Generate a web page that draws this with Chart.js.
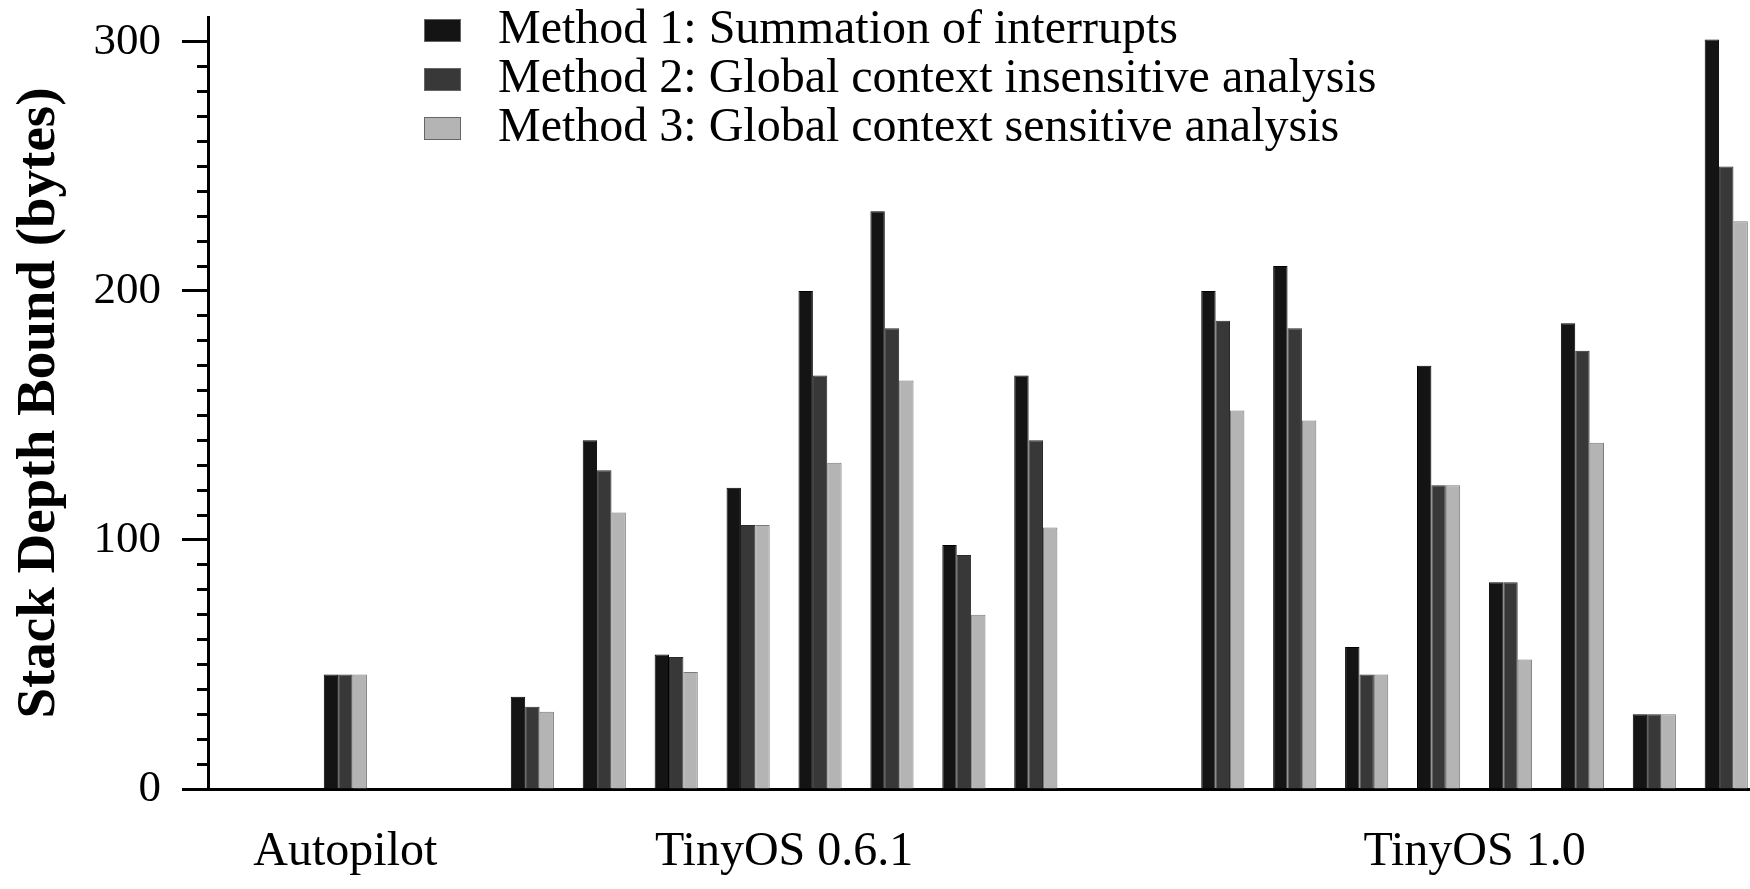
<!DOCTYPE html>
<html><head><meta charset="utf-8">
<script src="https://cdn.jsdelivr.net/npm/chart.js@4/dist/chart.umd.min.js"></script>
<style>
html,body{margin:0;padding:0;background:#fff;}
#wrap{position:relative;width:1750px;height:889px;}
#legend{position:absolute;left:424px;top:6px;font-family:"Liberation Serif","Times New Roman",serif;font-size:48px;color:#000;line-height:1;}
#legend .item{display:flex;align-items:center;height:49px;white-space:nowrap;}
#legend .box{width:37px;height:23px;margin-right:37px;box-sizing:border-box;border:1px solid #666;}
#legend .txt{position:relative;top:-4px;}
</style></head><body>
<div id="wrap"><canvas id="c" width="1750" height="889"></canvas><div id="legend"></div></div>
<script>
// ---- data ----
const groupNames = ["Autopilot", "TinyOS 0.6.1", "TinyOS 1.0"];
const groupSizes = [1, 8, 8];
const seriesNames = [
  "Method 1: Summation of interrupts",
  "Method 2: Global context insensitive analysis",
  "Method 3: Global context sensitive analysis"
];
const method1 = [46, 37, 140, 54, 121, 200, 232, 98, 166, 200, 210, 57, 170, 83, 187, 30, 301];
const method2 = [46, 33, 128, 53, 106, 166, 185, 94, 140, 188, 185, 46, 122, 83, 176, 30, 250];
const method3 = [46, 31, 111, 47, 106, 131, 164, 70, 105, 152, 148, 46, 122, 52, 139, 30, 228];
const yTickLabels = [0, 100, 200, 300];

// ---- layout constants ----
const GROUP_GAP = 2.6;   // slot distance between neighbouring groups
const X_PAD_LEFT = 1.91;
const X_PAD_RIGHT = 0.33;
const Y_MAX = 310;
const colors = ["#141414", "#383838", "#b4b4b4"];
const borders = ["#000000", "#2a2a2a", "#7a7a7a"];

const xPos = [];
const groupCenters = [];
let cursor = 0;
groupSizes.forEach((n) => {
  const first = cursor;
  for (let i = 0; i < n; i++) xPos.push(cursor + i);
  groupCenters.push(first + (n - 1) / 2);
  cursor += (n - 1) + GROUP_GAP;
});
const xMin = xPos[0] - X_PAD_LEFT;
const xMax = xPos[xPos.length - 1] + X_PAD_RIGHT;

const series = [method1, method2, method3];
const datasets = series.map((arr, k) => ({
  label: seriesNames[k],
  data: arr.map((v, i) => ({x: xPos[i], y: v})),
  backgroundColor: colors[k],
  borderColor: borders[k],
  borderWidth: 1,
  categoryPercentage: 0.6,
  barPercentage: 1.0
}));

const serif = "'Liberation Serif', 'Times New Roman', serif";

const chart = new Chart(document.getElementById('c'), {
  type: 'bar',
  data: {datasets},
  options: {
    responsive: false,
    animation: false,
    devicePixelRatio: 1,
    layout: {padding: {top: 17, left: 0, right: 0, bottom: 0}},
    plugins: {legend: {display: false}, tooltip: {enabled: false}},
    scales: {
      x: {
        type: 'linear',
        min: xMin,
        max: xMax,
        offset: false,
        z: 1,
        border: {display: true, color: '#000', width: 3},
        grid: {drawOnChartArea: false, drawTicks: false, offset: false},
        afterBuildTicks: (scale) => { scale.ticks = groupCenters.map(v => ({value: v})); },
        afterFit: (scale) => { scale.height = 100; scale.paddingLeft = 0; scale.paddingRight = 0; },
        ticks: {
          autoSkip: false,
          maxRotation: 0,
          padding: 35,
          color: '#000',
          font: {family: serif, size: 48},
          callback: (v, i) => groupNames[i]
        }
      },
      y: {
        min: 0,
        max: Y_MAX,
        z: 1,
        border: {display: true, color: '#000', width: 3},
        afterBuildTicks: (scale) => { scale.ticks = scale.ticks.filter(t => t.value <= yTickLabels[yTickLabels.length - 1]); },
        afterFit: (scale) => { scale.width = 208; scale.paddingTop = 0; scale.paddingBottom = 0; },
        grid: {
          drawOnChartArea: false,
          drawTicks: true,
          tickLength: 26,
          tickWidth: 3,
          tickColor: '#000',
          tickBorderDash: (ctx) => (ctx.tick && yTickLabels.includes(ctx.tick.value)) ? [] : [0, 15, 11, 100]
        },
        ticks: {
          stepSize: 10,
          autoSkip: false,
          padding: 21,
          color: '#000',
          font: {family: serif, size: 45},
          callback: (v) => yTickLabels.includes(v) ? String(v) : ''
        },
        title: {
          display: true,
          text: 'Stack Depth Bound (bytes)',
          color: '#000',
          font: {family: serif, size: 55, weight: 'bold'},
          padding: {top: 7, bottom: 0}
        }
      }
    }
  }
});

// HTML legend built from the chart's datasets
const legendEl = document.getElementById('legend');
chart.data.datasets.forEach((ds) => {
  const item = document.createElement('div');
  item.className = 'item';
  const box = document.createElement('span');
  box.className = 'box';
  box.style.background = ds.backgroundColor;
  const txt = document.createElement('span');
  txt.className = 'txt';
  txt.textContent = ds.label;
  item.appendChild(box);
  item.appendChild(txt);
  legendEl.appendChild(item);
});
</script>
</body></html>
